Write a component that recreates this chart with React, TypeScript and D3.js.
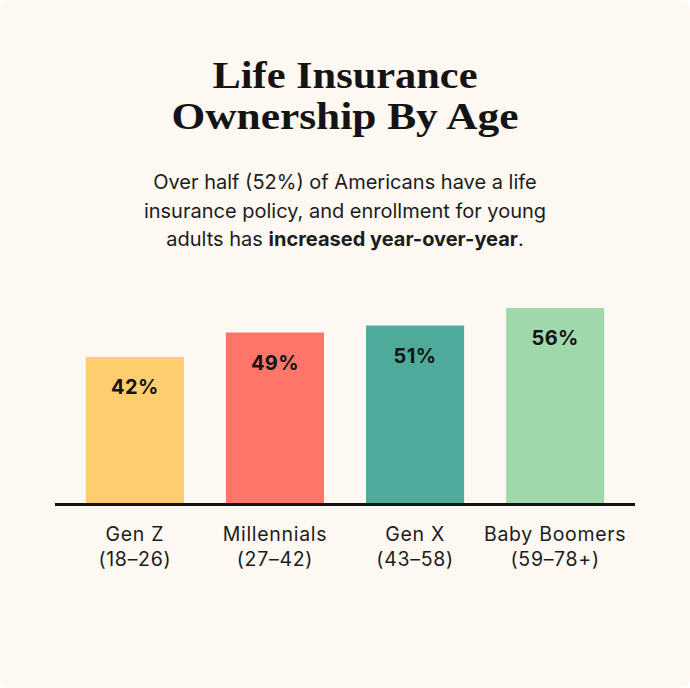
import React, { useEffect, useRef } from 'react';
import * as d3 from 'd3';

const generations = ['Gen Z', 'Millennials', 'Gen X', 'Baby Boomers'];
const ageRanges = ['(18–26)', '(27–42)', '(43–58)', '(59–78+)'];
const ownership = [42, 49, 51, 56];
const barColors = ['#fecd6e', '#ff756a', '#4eaa9a', '#9fd8ab'];

const titleLines = ['Life Insurance', 'Ownership By Age'];
const titleWidths = [265, 347];

const App: React.FC = () => {
  const svgRef = useRef<SVGSVGElement | null>(null);

  useEffect(() => {
    const width = 690;
    const height = 688;
    const svg = d3.select(svgRef.current);
    svg.selectAll('*').remove();
    svg.attr('width', width).attr('height', height);

    svg.append('rect')
      .attr('x', 0).attr('y', 0)
      .attr('width', width).attr('height', height)
      .attr('rx', 10)
      .attr('fill', '#fdf8f1');

    // title
    svg.selectAll('text.title')
      .data(titleLines)
      .join('text')
      .attr('class', 'title')
      .attr('x', width / 2)
      .attr('y', (_, i) => 88 + i * 41)
      .attr('text-anchor', 'middle')
      .attr('font-family', '"Liberation Serif", serif')
      .attr('font-weight', 700)
      .attr('font-size', 38)
      .attr('textLength', (_, i) => titleWidths[i])
      .attr('lengthAdjust', 'spacingAndGlyphs')
      .attr('fill', '#141414')
      .text(d => d);

    // subtitle
    const sub = svg.append('text')
      .attr('text-anchor', 'middle')
      .attr('font-family', 'Inter, sans-serif')
      .attr('font-size', 20)
      .attr('fill', '#1c1c1c');
    sub.append('tspan').attr('x', width / 2).attr('y', 189)
      .text('Over half (52%) of Americans have a life');
    sub.append('tspan').attr('x', width / 2).attr('y', 218)
      .text('insurance policy, and enrollment for young');
    const l3 = sub.append('tspan').attr('x', width / 2).attr('y', 246);
    l3.append('tspan').text('adults has ');
    l3.append('tspan').attr('font-weight', 700).text('increased year-over-year');
    l3.append('tspan').text('.');

    const x = d3.scaleBand<string>()
      .domain(generations)
      .range([55, 635])
      .paddingInner(0.3)
      .paddingOuter(0.22);
    const y = d3.scaleLinear().domain([0, 100]).range([504, 154]);

    svg.selectAll('rect.bar')
      .data(ownership)
      .join('rect')
      .attr('class', 'bar')
      .attr('x', (_, i) => x(generations[i])!)
      .attr('y', d => y(d))
      .attr('width', x.bandwidth())
      .attr('height', d => y(0) - y(d))
      .attr('fill', (_, i) => barColors[i]);

    svg.selectAll('text.value')
      .data(ownership)
      .join('text')
      .attr('class', 'value')
      .attr('x', (_, i) => x(generations[i])! + x.bandwidth() / 2)
      .attr('y', d => y(d) + 37)
      .attr('text-anchor', 'middle')
      .attr('font-family', 'Inter, sans-serif')
      .attr('font-weight', 700)
      .attr('font-size', 20)
      .attr('letter-spacing', 0.4)
      .attr('fill', '#141414')
      .text(d => `${d}%`);

    svg.append('line')
      .attr('x1', 55).attr('x2', 635)
      .attr('y1', y(0) + 0.5).attr('y2', y(0) + 0.5)
      .attr('stroke', '#111')
      .attr('stroke-width', 3);

    const labels = svg.selectAll('text.cat')
      .data(generations)
      .join('text')
      .attr('class', 'cat')
      .attr('text-anchor', 'middle')
      .attr('font-family', 'Inter, sans-serif')
      .attr('font-size', 19.5)
      .attr('letter-spacing', 0.7)
      .attr('fill', '#1c1c1c');
    labels.append('tspan')
      .attr('x', d => x(d)! + x.bandwidth() / 2)
      .attr('y', 541)
      .text(d => d);
    labels.append('tspan')
      .attr('x', d => x(d)! + x.bandwidth() / 2)
      .attr('y', 566)
      .text((_, i) => ageRanges[i]);
  }, []);

  return (
    <div style={{ position: 'absolute', left: 0, top: 0, background: '#fff' }}>
      <svg ref={svgRef} style={{ display: 'block' }}></svg>
    </div>
  );
};

export default App;
